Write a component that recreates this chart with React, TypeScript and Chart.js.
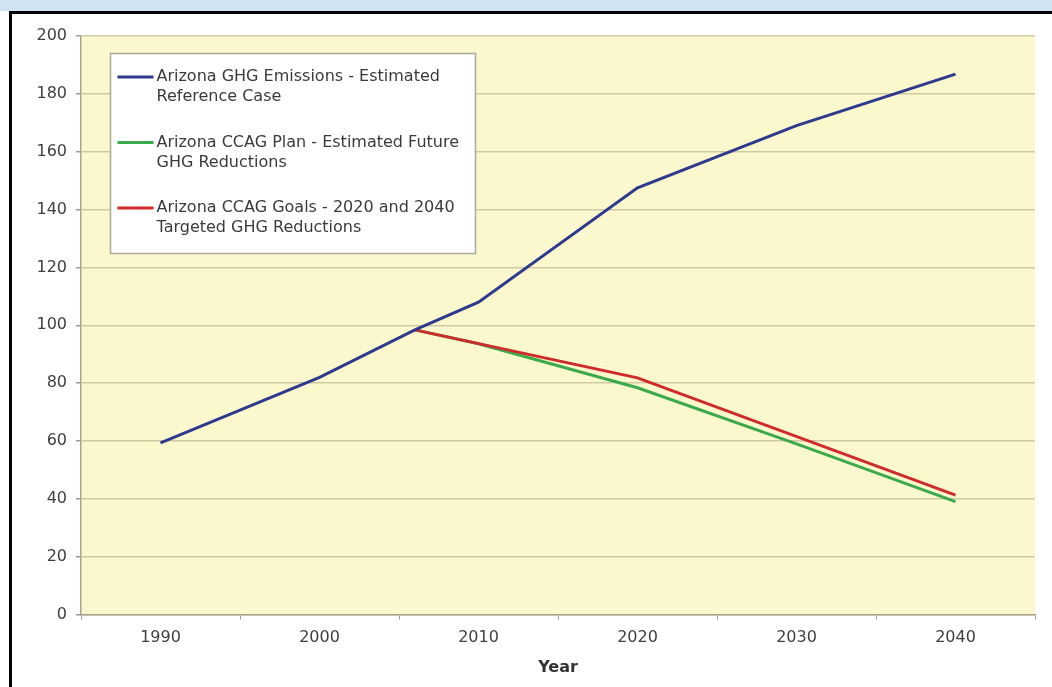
import React, { useEffect, useRef } from "react";
import { Chart, registerables } from "chart.js";

Chart.register(...registerables);

// ---- Data ----
const referenceYears = [1990, 2000, 2006, 2010, 2020, 2030, 2040];
const referenceValues = [59.3, 82, 98.4, 108, 147.5, 169, 186.8];

const planYears = [2006, 2010, 2020, 2030, 2040];
const planValues = [98.4, 93.6, 78.4, 59, 39];

const goalYears = [2006, 2020, 2040];
const goalValues = [98.4, 81.8, 41.3];

const seriesLabels = [
  ["Arizona GHG Emissions - Estimated", "Reference Case"],
  ["Arizona CCAG Plan - Estimated Future", "GHG Reductions"],
  ["Arizona CCAG Goals - 2020 and 2040", "Targeted GHG Reductions"],
];
const seriesColors = ["#2D3A8E", "#3BAA4B", "#D02B2B"];

const xMin = 1985;
const xMax = 2045;
const xLabelYears = [1990, 2000, 2010, 2020, 2030, 2040];
const yMin = 0;
const yMax = 200;
const yStep = 20;
const xTitle = "Year";

const FONT = 'Verdana, "DejaVu Sans", sans-serif';

export default function App() {
  const ref = useRef<HTMLCanvasElement>(null);

  useEffect(() => {
    document.body.style.margin = "0";
    const canvas = ref.current;
    if (!canvas) return;

    const bgPlugin = {
      id: "plotBg",
      beforeDraw(chart: any) {
        const { ctx, chartArea: a } = chart;
        ctx.save();
        ctx.fillStyle = "#FCF8CD";
        ctx.fillRect(a.left, a.top, a.right - a.left, a.bottom - a.top);
        ctx.restore();
      },
    };

    const legendPlugin = {
      id: "boxLegend",
      afterDatasetsDraw(chart: any) {
        const { ctx, chartArea: a } = chart;
        const x = a.left + 29.5;
        const y = a.top + 17.5;
        const w = 365;
        const h = 200;
        ctx.save();
        ctx.fillStyle = "#FFFFFF";
        ctx.fillRect(x, y, w, h);
        ctx.strokeStyle = "#A9A89A";
        ctx.lineWidth = 1.5;
        ctx.strokeRect(x, y, w, h);
        ctx.font = "16px " + FONT;
        ctx.textBaseline = "middle";
        ctx.textAlign = "left";
        seriesLabels.forEach((lines, i) => {
          const cy = y + 23.5 + i * 65.5;
          ctx.strokeStyle = seriesColors[i];
          ctx.lineWidth = 3;
          ctx.beginPath();
          ctx.moveTo(x + 7, cy);
          ctx.lineTo(x + 43, cy);
          ctx.stroke();
          ctx.fillStyle = "#3A3A3A";
          lines.forEach((t, j) => ctx.fillText(t, x + 46, cy + j * 20));
        });
        ctx.restore();
      },
    };

    const toPoints = (xs: number[], ys: number[]) =>
      xs.map((x, i) => ({ x, y: ys[i] }));

    const chart = new Chart(canvas, {
      type: "line",
      data: {
        datasets: [
          {
            label: seriesLabels[0].join(" "),
            data: toPoints(referenceYears, referenceValues),
            borderColor: seriesColors[0],
            order: 0,
          },
          {
            label: seriesLabels[1].join(" "),
            data: toPoints(planYears, planValues),
            borderColor: seriesColors[1],
            order: 2,
          },
          {
            label: seriesLabels[2].join(" "),
            data: toPoints(goalYears, goalValues),
            borderColor: seriesColors[2],
            order: 1,
          },
        ].map((d) => ({
          ...d,
          borderWidth: 3,
          pointRadius: 0,
          tension: 0,
          fill: false,
        })),
      },
      options: {
        animation: false,
        responsive: false,
        maintainAspectRatio: false,
        layout: { padding: { top: 36, right: 17, left: 0, bottom: 0 } },
        plugins: {
          legend: { display: false },
          tooltip: { enabled: false },
          title: { display: false },
        },
        scales: {
          x: {
            type: "linear",
            min: xMin,
            max: xMax,
            afterBuildTicks(scale: any) {
              const t = [];
              for (let v = xMin; v <= xMax; v += 5) t.push({ value: v });
              scale.ticks = t;
            },
            afterFit(scale: any) {
              scale.height = 72.5;
            },
            ticks: {
              autoSkip: false,
              maxRotation: 0,
              padding: 9,
              color: "#3F3F3F",
              font: { family: FONT, size: 16 },
              callback: (v: any) =>
                xLabelYears.includes(Number(v)) ? String(v) : "",
            },
            grid: {
              drawOnChartArea: false,
              tickLength: 5,
              tickColor: (c: any) =>
                c.tick && c.tick.value % 10 === 5 ? "#9C9C90" : "rgba(0,0,0,0)",
            },
            border: { display: true, color: "#A7A58E", width: 1.5 },
            title: {
              display: true,
              text: xTitle,
              color: "#333333",
              font: { family: FONT, size: 16, weight: "bold" },
              padding: { top: 0, bottom: 10 },
            },
          },
          y: {
            min: yMin,
            max: yMax,
            afterFit(scale: any) {
              scale.width = 81;
            },
            ticks: {
              stepSize: yStep,
              padding: 9,
              color: "#3F3F3F",
              font: { family: FONT, size: 16 },
            },
            grid: {
              color: "#CDC9A3",
              lineWidth: 1.5,
              tickLength: 5,
              tickColor: "#9C9C90",
            },
            border: { display: true, color: "#A7A58E", width: 1.5 },
          },
        },
      },
      plugins: [bgPlugin, legendPlugin],
    } as any);

    return () => chart.destroy();
  }, []);

  return (
    <div
      style={{
        position: "fixed",
        left: 0,
        top: 0,
        width: 1052,
        height: 687,
        background: "#FFFFFF",
        overflow: "hidden",
      }}
    >
      <div
        style={{
          position: "absolute",
          left: 0,
          top: 0,
          width: 1052,
          height: 11,
          background: "#CFE3F2",
        }}
      />
      <div
        style={{
          position: "absolute",
          left: 9,
          top: 11,
          width: 1052,
          height: 687,
          borderTop: "3px solid #000",
          borderLeft: "3px solid #000",
          boxSizing: "border-box",
        }}
      />
      <canvas
        ref={ref}
        width={1052}
        height={687}
        style={{ position: "absolute", left: 0, top: 0 }}
      />
    </div>
  );
}
